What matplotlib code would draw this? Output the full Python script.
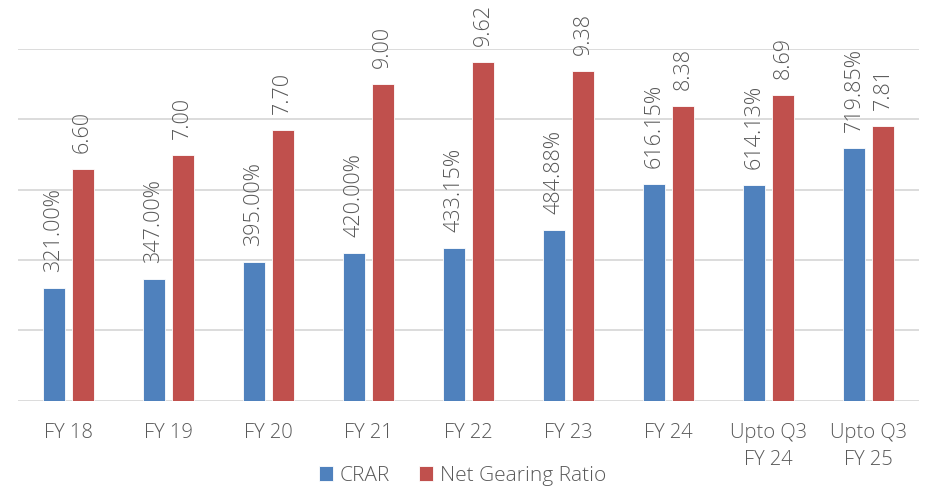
import matplotlib
matplotlib.use("Agg")
import matplotlib.pyplot as plt
import numpy as np

categories = ["FY 18", "FY 19", "FY 20", "FY 21", "FY 22", "FY 23", "FY 24",
              "Upto Q3\nFY 24", "Upto Q3\nFY 25"]
crar = [3.21, 3.47, 3.95, 4.20, 4.3315, 4.8488, 6.1615, 6.1413, 7.1985]
gearing = [6.60, 7.00, 7.70, 9.00, 9.62, 9.38, 8.38, 8.69, 7.81]

BLUE = "#4F81BD"
RED = "#C0504D"
GREY = "#595959"

plt.rcParams["font.family"] = ["Open Sans", "DejaVu Sans"]
plt.rcParams["font.weight"] = 300


def main():
    fig = plt.figure(figsize=(9.3, 4.9), dpi=100)
    ax = fig.add_axes([0.0194, 0.182, 0.9686, 0.718])

    x = np.arange(len(categories))
    w = 0.22
    off = 0.145
    b1 = ax.bar(x - off, crar, w, color=BLUE, edgecolor="white", linewidth=0.6,
                label="CRAR", zorder=3)
    b2 = ax.bar(x + off, gearing, w, color=RED, edgecolor="white", linewidth=0.6,
                label="Net Gearing Ratio", zorder=3)

    for rect, v in zip(b1, crar):
        ax.annotate(f"{v * 100:.2f}%", (rect.get_x() + rect.get_width() / 2, v),
                    xytext=(0, 11.5), textcoords="offset points", rotation=90,
                    ha="center", va="bottom", fontsize=15.5, color=GREY,
                    annotation_clip=False)
    for rect, v in zip(b2, gearing):
        ax.annotate(f"{v:.2f}", (rect.get_x() + rect.get_width() / 2, v),
                    xytext=(0, 11.5), textcoords="offset points", rotation=90,
                    ha="center", va="bottom", fontsize=15.5, color=GREY,
                    annotation_clip=False)

    ax.set_xlim(-0.5, len(categories) - 0.5)
    ax.set_ylim(0, 10)
    ax.set_yticks(np.arange(0, 11, 2))
    ax.yaxis.grid(True, color="#D9D9D9", linewidth=1.3, zorder=0)
    ax.tick_params(axis="y", left=False, labelleft=False)
    ax.set_xticks(x)
    ax.set_xticklabels(categories, fontsize=14.5, color=GREY, linespacing=1.45)
    ax.tick_params(axis="x", length=0, pad=16)
    for s in ax.spines.values():
        s.set_visible(False)

    fig.legend(handles=[b1, b2], loc="center", bbox_to_anchor=(0.497, 0.029),
               ncol=2, frameon=False, fontsize=15, labelcolor=GREY,
               handlelength=0.7, handleheight=0.7, handletextpad=0.3,
               columnspacing=1.4)

    fig.savefig("out.png", dpi=100)


if __name__ == "__main__":
    main()
